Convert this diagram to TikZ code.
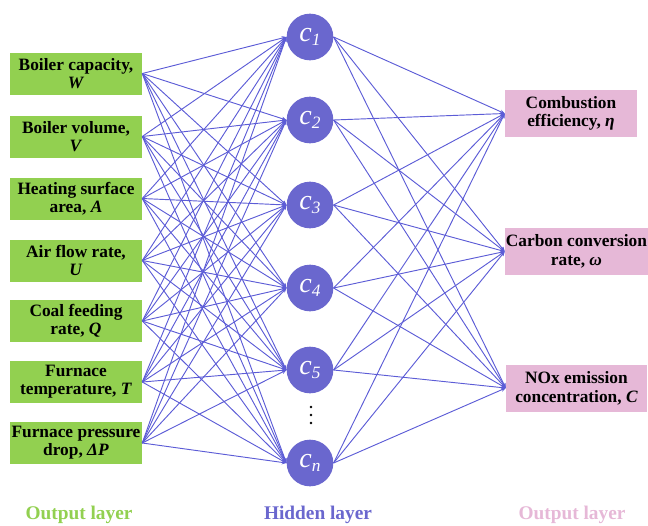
\documentclass[tikz,border=0pt]{standalone}
\usepackage{fontspec}
\setmainfont{Liberation Serif}
\usetikzlibrary{arrows.meta}
\definecolor{ingreen}{HTML}{92D050}
\definecolor{outpink}{HTML}{E6B8D7}
\definecolor{hidblue}{HTML}{6A67CE}
\definecolor{edgeblue}{HTML}{5C5CD6}
\newcommand{\cnode}[1]{{\itshape c}\raisebox{-0.35ex}{\fontsize{13}{13}\selectfont\itshape #1}}
\begin{document}
\begin{tikzpicture}[x=0.75pt,y=-0.75pt,
  inbox/.style={fill=ingreen, minimum width=99pt, minimum height=31.5pt, inner sep=0pt,
    align=center, font=\bfseries\fontsize{13}{13.5}\selectfont},
  outbox/.style={fill=outpink, minimum height=35.25pt, inner sep=0pt,
    align=center, font=\bfseries\fontsize{13}{14}\selectfont},
  hid/.style={circle, fill=hidblue, minimum size=35pt, inner sep=0pt,
    text=white, font=\fontsize{21}{21}\selectfont},
  conn/.style={draw=edgeblue, line width=0.7pt, -{Stealth[length=3.5pt,width=3pt]}},
  layerlab/.style={font=\bfseries\fontsize{14.5}{16}\selectfont}
]
\useasboundingbox (0,0) rectangle (648,525);

% input boxes
\node[inbox] (i1) at (76,73.5) {Boiler capacity,\\\textit{W}};
\node[inbox] (i2) at (76,136.5) {Boiler volume,\\\textit{V}};
\node[inbox] (i3) at (76,198.5) {Heating surface\\area, \textit{A}};
\node[inbox] (i4) at (76,260.5) {Air flow rate,\\\textit{U}};
\node[inbox] (i5) at (76,321) {Coal feeding\\rate, \textit{Q}};
\node[inbox] (i6) at (76,382) {Furnace\\temperature, \textit{T}};
\node[inbox] (i7) at (76,443) {Furnace pressure\\drop, \textit{ΔP}};

% hidden nodes
\node[hid] (h1) at (310,37) {\cnode{1}};
\node[hid] (h2) at (310,120) {\cnode{2}};
\node[hid] (h3) at (310,205) {\cnode{3}};
\node[hid] (h4) at (310,288) {\cnode{4}};
\node[hid] (h5) at (310,370) {\cnode{5}};
\node[hid] (h6) at (310,463) {\cnode{n}};

\fill (311,407) circle (1.3) (311,415) circle (1.3) (311,423) circle (1.3);

% output boxes
\node[outbox, minimum width=99pt] (o1) at (571,113.5) {Combustion\\efficiency, \textit{η}};
\node[outbox, minimum width=107.25pt] (o2) at (576.5,251.5) {Carbon conversion\\rate, \textit{ω}};
\node[outbox, minimum width=105.75pt] (o3) at (576.5,388) {NOx emission\\concentration, \textit{C}};

% connections
\foreach \i in {1,...,7}{
  \foreach \h in {1,...,6}{
    \draw[conn] (i\i.east) -- (h\h.west);
  }
}
\foreach \h in {1,...,6}{
  \foreach \o in {1,2,3}{
    \draw[conn] (h\h.east) -- (o\o.west);
  }
}

% layer labels
\node[layerlab, text=ingreen] (l1) at (79,515) {Output layer};
\node[layerlab, text=hidblue] (l2) at (318,515) {Hidden layer};
\node[layerlab, text=outpink] (l3) at (572,515) {Output layer};
\end{tikzpicture}
\end{document}
